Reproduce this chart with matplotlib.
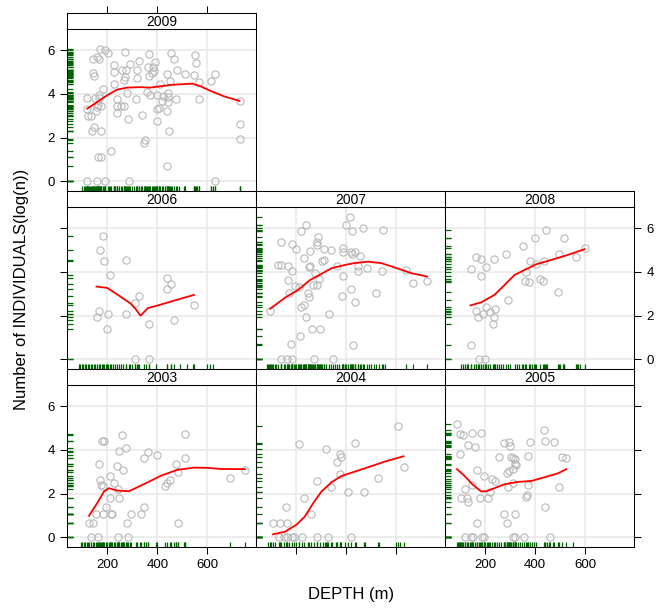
import matplotlib
matplotlib.use('Agg')
import matplotlib.pyplot as plt
import matplotlib.transforms as mtransforms

plt.rcParams['font.family'] = ['Liberation Sans', 'DejaVu Sans']

# (depth, log(n)) per haul, by year
pts_2009 = [(169, 6.05), (191, 6.00), (201, 5.89), (271, 5.91), (365, 5.82), (453, 5.89), (549, 5.79),
            (143, 5.62), (157, 5.68), (168, 5.62), (465, 5.59), (556, 5.42), (328, 5.51), (291, 5.36),
            (228, 5.34), (391, 5.48), (144, 4.98), (145, 4.81), (228, 4.99), (259, 5.11), (275, 5.09),
            (319, 5.11), (364, 5.24), (383, 5.25), (385, 5.05), (380, 4.98), (479, 5.08), (511, 4.89),
            (547, 4.87), (630, 4.93), (615, 4.60), (565, 4.55), (439, 4.90), (449, 4.61), (411, 4.47),
            (228, 4.44), (181, 4.24), (267, 4.63), (271, 4.78), (317, 4.73), (368, 4.84), (167, 3.97),
            (149, 3.82), (120, 3.82), (167, 3.82), (164, 3.51), (157, 3.40), (175, 3.45), (119, 3.30),
            (123, 2.99), (136, 2.99), (155, 3.21), (240, 3.77), (237, 3.44), (253, 3.47), (268, 3.47),
            (240, 3.15), (279, 4.05), (315, 3.77), (359, 4.08), (371, 3.97), (397, 3.95), (421, 3.89),
            (417, 3.68), (441, 3.86), (441, 3.63), (443, 4.05), (475, 3.79), (567, 3.77), (440, 3.22),
            (400, 3.30), (408, 3.37), (284, 2.84), (339, 3.04), (400, 2.76), (145, 2.47), (140, 2.31),
            (176, 2.31), (447, 2.31), (349, 1.91), (345, 1.77), (729, 3.66), (729, 2.63), (729, 1.94),
            (215, 1.37), (163, 1.10), (173, 1.10), (437, 0.69), (120, 0), (157, 0), (191, 0), (288, 0),
            (630, 0)]
pts_2006 = [(183, 5.63), (172, 5.01), (188, 4.52), (275, 4.53), (209, 3.85), (439, 3.71), (456, 3.44),
            (437, 3.22), (328, 2.90), (311, 2.56), (168, 2.20), (157, 1.95), (201, 2.09), (273, 2.08),
            (547, 2.49), (465, 1.79), (365, 1.60), (200, 1.39), (311, 0), (365, 0)]
pts_2007 = [(413, 6.52), (239, 6.15), (399, 6.15), (421, 5.86), (468, 6.00), (547, 5.94), (217, 5.85),
            (137, 5.36), (183, 5.30), (200, 5.07), (288, 5.59), (284, 5.39), (281, 5.24), (309, 5.05),
            (256, 4.98), (340, 4.99), (388, 5.10), (388, 4.89), (420, 4.93), (433, 4.92), (424, 4.82),
            (453, 4.73), (229, 4.63), (309, 4.53), (303, 4.50), (125, 4.32), (139, 4.32), (167, 4.29),
            (181, 4.05), (251, 4.23), (255, 4.27), (364, 4.26), (445, 4.26), (448, 4.06), (481, 4.18),
            (543, 4.02), (640, 4.08), (273, 3.95), (385, 3.82), (167, 3.63), (289, 3.69), (211, 3.33),
            (196, 3.34), (283, 3.40), (268, 3.40), (420, 3.22), (519, 3.05), (169, 3.05), (247, 3.02),
            (249, 2.87), (384, 2.90), (436, 2.64), (229, 2.49), (217, 2.40), (96, 2.23), (332, 2.09),
            (239, 1.94), (261, 1.39), (293, 1.39), (215, 1.08), (177, 0.69), (428, 0.67), (140, 0),
            (164, 0), (181, 0), (269, 0), (347, 0), (667, 3.51), (723, 3.59)]
pts_2008 = [(443, 5.91), (400, 5.54), (515, 5.56), (351, 5.18), (284, 4.82), (164, 4.67), (181, 4.58),
            (235, 4.60), (143, 4.14), (201, 4.23), (184, 3.82), (379, 4.49), (401, 4.38), (433, 4.50),
            (493, 4.82), (561, 4.67), (597, 5.11), (361, 3.98), (360, 3.59), (373, 3.56), (420, 3.66),
            (432, 3.59), (492, 3.08), (292, 2.70), (164, 2.20), (219, 2.18), (203, 2.38), (237, 2.31),
            (171, 1.94), (192, 2.06), (235, 1.94), (229, 1.60), (143, 0.67), (175, 0), (200, 0)]
pts_2003 = [(260, 4.67), (511, 4.74), (177, 4.41), (187, 4.41), (275, 4.10), (247, 3.97), (364, 3.89),
            (399, 3.75), (345, 3.63), (511, 3.62), (165, 3.36), (475, 3.37), (240, 3.28), (264, 3.09),
            (212, 2.81), (171, 2.63), (225, 2.48), (484, 3.01), (173, 2.40), (452, 2.63), (440, 2.48),
            (432, 2.37), (184, 2.33), (244, 2.22), (212, 1.79), (248, 1.79), (195, 1.40), (347, 1.40),
            (155, 1.08), (184, 1.08), (213, 1.08), (220, 1.08), (293, 1.08), (336, 1.08), (128, 0.68),
            (143, 0.68), (277, 0.68), (484, 0.68), (136, 0), (163, 0), (244, 0), (281, 0), (692, 2.71),
            (751, 3.07)]
pts_2004 = [(608, 5.08), (436, 4.30), (211, 4.27), (317, 4.06), (375, 3.81), (379, 3.69), (363, 3.47),
            (373, 2.89), (629, 3.22), (527, 2.71), (283, 2.57), (337, 2.31), (231, 1.79), (405, 2.07),
            (472, 2.07), (160, 1.40), (260, 1.08), (107, 0.68), (135, 0.68), (163, 0.68), (129, 0),
            (149, 0), (163, 0), (181, 0), (192, 0), (221, 0), (283, 0), (328, 0), (420, 0)]
pts_2005 = [(87, 5.18), (433, 4.89), (148, 4.77), (183, 4.77), (100, 4.71), (111, 4.68), (437, 4.41),
            (473, 4.38), (379, 4.38), (273, 4.32), (296, 4.35), (297, 4.18), (132, 4.21), (159, 4.13),
            (100, 3.80), (256, 3.66), (371, 3.72), (505, 3.69), (524, 3.65), (304, 3.66), (311, 3.62),
            (320, 3.59), (317, 3.36), (323, 3.30), (165, 3.10), (311, 3.15), (295, 3.04), (288, 2.96),
            (193, 2.83), (227, 2.66), (240, 2.58), (312, 2.48), (371, 2.40), (495, 2.29), (117, 2.20),
            (148, 2.40), (292, 2.29), (219, 2.08), (367, 1.96), (364, 1.84), (104, 1.78), (125, 1.79),
            (132, 1.61), (179, 1.78), (212, 1.78), (273, 1.09), (317, 1.09), (440, 1.38), (168, 0.68),
            (285, 0.67), (120, 0), (144, 0), (152, 0), (188, 0), (195, 0), (309, 0), (319, 0), (355, 0),
            (457, 0)]

# depths of hauls with no individuals (only show up in the depth rug)
empty_2009 = [100, 105, 110, 113, 126, 130, 185, 205, 210, 232, 245, 300, 305, 325, 335, 352, 355,
              395, 405, 430, 460, 487, 505, 545, 560, 615, 622]
empty_2006 = [87, 92, 98, 104, 110, 116, 122, 128, 134, 140, 146, 152, 178, 194, 214, 222, 230, 238,
              246, 254, 262, 285, 292, 300, 318, 322, 348, 355, 393, 453, 491, 520, 544, 600, 612, 623]
empty_2007 = [84, 88, 92, 100, 104, 108, 115, 120, 150, 155, 190, 205, 225, 235, 260, 295, 300, 320,
              355, 370, 395, 405, 460, 470, 490, 500, 510, 530, 553]
empty_2008 = [104, 110, 118, 125, 130, 155, 210, 245, 253, 262, 270, 300, 317, 325, 335, 345, 388,
              395, 440, 447, 500, 510, 516, 565, 572, 580]
empty_2003 = [95, 100, 105, 112, 118, 122, 148, 158, 200, 205, 230, 255, 268, 290, 313, 320, 330,
              355, 363, 396, 456, 468, 476, 505]
empty_2004 = [88, 95, 100, 113, 140, 170, 200, 210, 245, 250, 270, 295, 305, 316, 323, 344, 359, 395,
              439, 475, 530, 598, 615]
empty_2005 = [92, 96, 108, 138, 175, 200, 205, 215, 235, 245, 262, 280, 300, 330, 340, 345, 385, 395,
              404, 447, 454, 469, 491, 551]

# smoother through each year
fit_2009 = [(120, 3.33), (160, 3.63), (200, 3.94), (240, 4.20), (280, 4.29), (333, 4.31), (373, 4.29),
            (413, 4.35), (453, 4.41), (493, 4.44), (540, 4.47), (573, 4.35), (613, 4.14), (667, 3.89),
            (729, 3.68)]
fit_2006 = [(157, 3.33), (200, 3.27), (253, 2.87), (293, 2.56), (313, 2.31), (333, 2.00), (363, 2.35),
            (400, 2.46), (453, 2.64), (547, 2.95)]
fit_2007 = [(96, 2.32), (155, 2.82), (208, 3.18), (255, 3.63), (288, 3.83), (341, 4.17), (395, 4.32),
            (435, 4.41), (488, 4.47), (541, 4.40), (595, 4.20), (661, 3.94), (723, 3.79)]
fit_2008 = [(141, 2.47), (184, 2.61), (237, 2.95), (277, 3.40), (317, 3.86), (357, 4.09), (404, 4.35),
            (464, 4.55), (531, 4.78), (597, 5.04)]
fit_2003 = [(127, 0.99), (160, 1.57), (187, 2.10), (207, 2.25), (240, 2.14), (287, 2.11), (320, 2.29),
            (360, 2.51), (413, 2.81), (480, 3.09), (547, 3.19), (600, 3.18), (653, 3.13), (751, 3.12)]
fit_2004 = [(107, 0.14), (155, 0.26), (201, 0.58), (235, 0.96), (268, 1.57), (301, 2.10), (341, 2.52),
            (381, 2.81), (435, 3.01), (488, 3.21), (555, 3.47), (629, 3.71)]
fit_2005 = [(87, 3.12), (117, 2.81), (151, 2.40), (184, 2.10), (204, 2.11), (237, 2.25), (277, 2.43),
            (331, 2.54), (384, 2.58), (437, 2.75), (491, 2.93), (524, 3.12)]

x_ticks = [200, 400, 600]
y_ticks = [0, 2, 4, 6]

panels = [
    (2009, pts_2009, empty_2009, fit_2009, 0, 0),
    (2006, pts_2006, empty_2006, fit_2006, 0, 1),
    (2007, pts_2007, empty_2007, fit_2007, 1, 1),
    (2008, pts_2008, empty_2008, fit_2008, 2, 1),
    (2003, pts_2003, empty_2003, fit_2003, 0, 2),
    (2004, pts_2004, empty_2004, fit_2004, 1, 2),
    (2005, pts_2005, empty_2005, fit_2005, 2, 2),
]

W, H = 658, 610
col_x = [67, 256, 445]
row_y = [29, 207, 385]
pw, ph, sh = 189, 162, 16


def box(x, y, w, h):
    return [x / W, 1 - (y + h) / H, w / W, h / H]


fig = plt.figure(figsize=(W / 100, H / 100), dpi=100)
rug_col = '#006400'

for year, pts, empty, fit, c, r in panels:
    ax = fig.add_axes(box(col_x[c], row_y[r], pw, ph))
    sax = fig.add_axes(box(col_x[c], row_y[r] - sh, pw, sh))

    ax.set_xlim(39, 795)
    ax.set_ylim(-0.44, 6.97)
    ax.set_xticks(x_ticks)
    ax.set_yticks(y_ticks)
    ax.grid(True, color='#e8e8e8', lw=1.1)
    ax.set_axisbelow(True)

    xs = [p[0] for p in pts]
    ys = [p[1] for p in pts]
    ax.plot(xs, ys, 'o', mfc='none', mec='#b8b8b8', ms=5.2, mew=0.8)
    ax.plot([f[0] for f in fit], [f[1] for f in fit], color='red', lw=1.3)

    # rugs along both axes
    tx = mtransforms.blended_transform_factory(ax.transData, ax.transAxes)
    ty = mtransforms.blended_transform_factory(ax.transAxes, ax.transData)
    ax.vlines(xs + empty, 0, 0.033, transform=tx, color=rug_col, lw=0.9)
    ax.hlines(ys, 0, 0.033, transform=ty, color=rug_col, lw=0.9)

    ax.tick_params(direction='out', length=4.8, width=0.75, labelsize=9.5, pad=4,
                   top=False, labeltop=False,
                   bottom=(r == 2), labelbottom=(r == 2 and c != 1),
                   left=(c == 0), labelleft=(c == 0 and r != 1),
                   right=(c == 2), labelright=(c == 2 and r == 1))
    for s in ax.spines.values():
        s.set_linewidth(0.75)

    # strip with the year
    sax.set_xlim(39, 795)
    sax.set_yticks([])
    sax.set_xticks(x_ticks)
    sax.tick_params(direction='out', length=4.8, width=0.75, bottom=False, labelbottom=False,
                    top=(r == 0), labeltop=False)
    for s in sax.spines.values():
        s.set_linewidth(0.75)
    sax.text(0.5, 0.45, str(year), transform=sax.transAxes, ha='center', va='center', fontsize=10)

fig.text(351 / W, 1 - 594 / H, 'DEPTH (m)', ha='center', va='center', fontsize=12)
fig.text(22 / W, 1 - 289 / H, 'Number of INDIVIDUALS(log(n))', rotation=90,
         ha='center', va='center', fontsize=12)

fig.savefig('out.png', dpi=100)
